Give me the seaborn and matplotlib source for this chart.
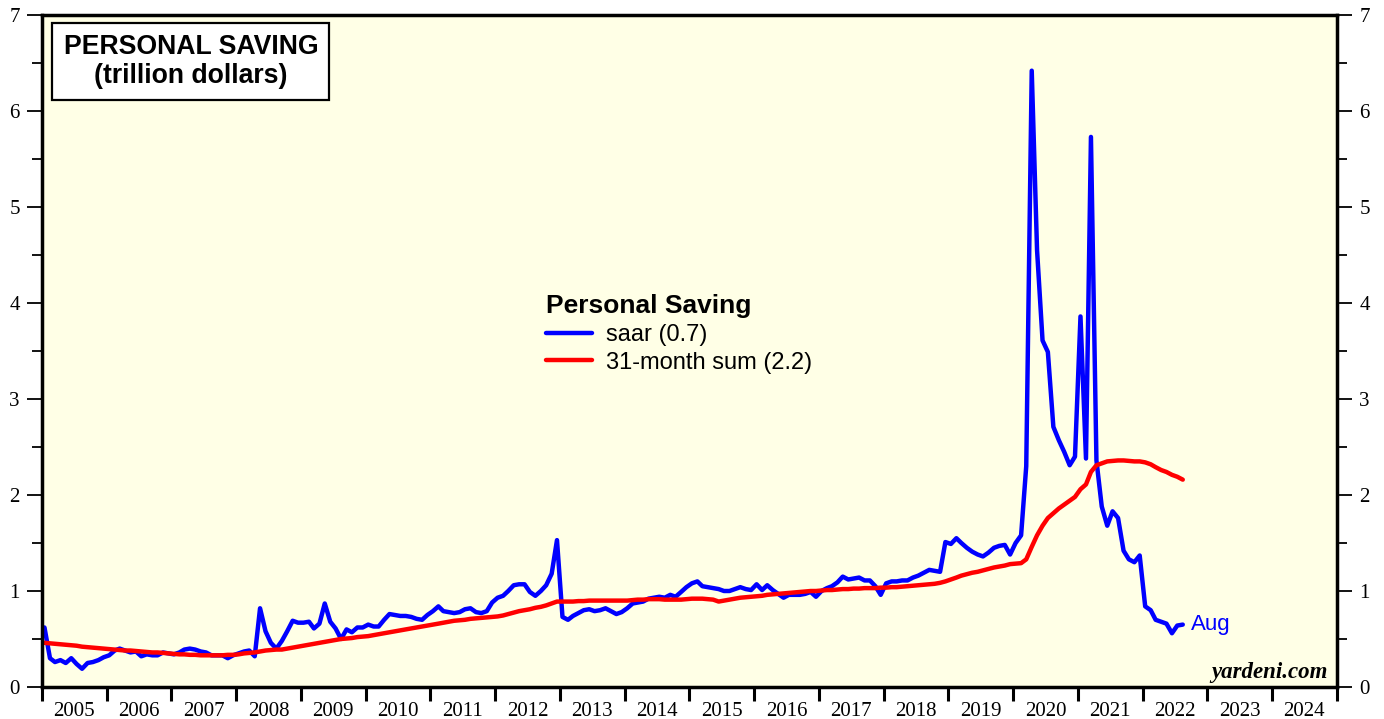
import numpy as np
import pandas as pd
import seaborn as sns
import matplotlib.pyplot as plt
import matplotlib.dates as mdates
from matplotlib.ticker import MultipleLocator, NullFormatter

# personal saving, saar (trillion $), monthly Jan 2005 - Aug 2022
saar_2005_2009 = [0.62, 0.30, 0.26, 0.28, 0.25, 0.30, 0.24, 0.19, 0.25, 0.26, 0.28, 0.31,
                  0.33, 0.38, 0.40, 0.38, 0.36, 0.37, 0.32, 0.34, 0.33, 0.33, 0.36, 0.35,
                  0.34, 0.36, 0.39, 0.40, 0.39, 0.37, 0.36, 0.33, 0.33, 0.33, 0.30, 0.33,
                  0.35, 0.37, 0.38, 0.32, 0.82, 0.58, 0.46, 0.40, 0.48, 0.58, 0.69, 0.67,
                  0.67, 0.68, 0.61, 0.66, 0.87, 0.68, 0.61, 0.50, 0.60, 0.57, 0.62, 0.62]
saar_2010_2014 = [0.65, 0.63, 0.63, 0.70, 0.76, 0.75, 0.74, 0.74, 0.73, 0.71, 0.70, 0.75,
                  0.79, 0.84, 0.79, 0.78, 0.77, 0.78, 0.81, 0.82, 0.78, 0.77, 0.79, 0.88,
                  0.93, 0.95, 1.00, 1.06, 1.07, 1.07, 0.99, 0.95, 1.00, 1.06, 1.18, 1.53,
                  0.73, 0.70, 0.74, 0.77, 0.80, 0.81, 0.79, 0.80, 0.82, 0.79, 0.76, 0.78,
                  0.82, 0.87, 0.88, 0.89, 0.92, 0.93, 0.94, 0.93, 0.96, 0.94, 0.99, 1.04]
saar_2015_2019 = [1.08, 1.10, 1.05, 1.04, 1.03, 1.02, 1.00, 1.00, 1.02, 1.04, 1.02, 1.01,
                  1.07, 1.01, 1.06, 1.01, 0.97, 0.93, 0.96, 0.96, 0.96, 0.97, 0.99, 0.94,
                  1.00, 1.03, 1.05, 1.09, 1.15, 1.12, 1.13, 1.14, 1.11, 1.11, 1.05, 0.96,
                  1.08, 1.10, 1.10, 1.11, 1.11, 1.14, 1.16, 1.19, 1.22, 1.21, 1.20, 1.51,
                  1.49, 1.55, 1.50, 1.45, 1.41, 1.38, 1.36, 1.40, 1.45, 1.47, 1.48, 1.38]
saar_2020_2022 = [1.50, 1.58, 2.30, 6.42, 4.55, 3.61, 3.49, 2.71, 2.57, 2.45, 2.31, 2.40,
                  3.86, 2.38, 5.73, 2.36, 1.88, 1.68, 1.83, 1.76, 1.42, 1.33, 1.30, 1.37,
                  0.84, 0.80, 0.70, 0.68, 0.66, 0.56, 0.64, 0.65]

# 31-month sum (trillion $)
sum31_2005_2009 = [0.46, 0.455, 0.45, 0.445, 0.44, 0.435, 0.43, 0.42, 0.415, 0.41, 0.405, 0.40,
                   0.395, 0.39, 0.385, 0.38, 0.38, 0.375, 0.37, 0.365, 0.36, 0.36, 0.355, 0.35,
                   0.345, 0.34, 0.34, 0.335, 0.335, 0.33, 0.33, 0.33, 0.33, 0.33, 0.335, 0.335,
                   0.34, 0.35, 0.355, 0.36, 0.37, 0.38, 0.385, 0.39, 0.39, 0.40, 0.41, 0.42,
                   0.43, 0.44, 0.45, 0.46, 0.47, 0.48, 0.49, 0.50, 0.505, 0.51, 0.52, 0.525]
sum31_2010_2014 = [0.53, 0.54, 0.55, 0.56, 0.57, 0.58, 0.59, 0.60, 0.61, 0.62, 0.63, 0.64,
                   0.65, 0.66, 0.67, 0.68, 0.69, 0.695, 0.70, 0.71, 0.715, 0.72, 0.725, 0.73,
                   0.735, 0.745, 0.76, 0.775, 0.79, 0.80, 0.81, 0.825, 0.835, 0.85, 0.87, 0.89,
                   0.89, 0.89, 0.89, 0.895, 0.895, 0.90, 0.90, 0.90, 0.90, 0.90, 0.90, 0.90,
                   0.90, 0.905, 0.91, 0.91, 0.915, 0.915, 0.915, 0.91, 0.91, 0.91, 0.91, 0.915]
sum31_2015_2019 = [0.92, 0.92, 0.92, 0.915, 0.91, 0.89, 0.90, 0.91, 0.92, 0.93, 0.935, 0.94,
                   0.945, 0.95, 0.96, 0.965, 0.97, 0.975, 0.98, 0.985, 0.99, 0.995, 1.00, 1.00,
                   1.005, 1.01, 1.01, 1.015, 1.02, 1.02, 1.025, 1.025, 1.03, 1.03, 1.03, 1.035,
                   1.035, 1.04, 1.04, 1.045, 1.05, 1.055, 1.06, 1.065, 1.07, 1.075, 1.085, 1.10,
                   1.12, 1.14, 1.16, 1.175, 1.19, 1.20, 1.215, 1.23, 1.245, 1.255, 1.265, 1.28]
sum31_2020_2022 = [1.285, 1.29, 1.33, 1.46, 1.58, 1.68, 1.76, 1.81, 1.86, 1.90, 1.94, 1.98,
                   2.06, 2.11, 2.24, 2.31, 2.33, 2.35, 2.355, 2.36, 2.36, 2.355, 2.35, 2.35,
                   2.34, 2.32, 2.29, 2.26, 2.24, 2.21, 2.19, 2.16]

saar = saar_2005_2009 + saar_2010_2014 + saar_2015_2019 + saar_2020_2022
sum31 = sum31_2005_2009 + sum31_2010_2014 + sum31_2015_2019 + sum31_2020_2022

dates = pd.date_range("2005-01-01", periods=len(saar), freq="MS") + pd.Timedelta(days=14)
df = pd.DataFrame({"date": dates, "saar": saar, "sum31": sum31})

y_ticks = list(range(0, 8))

fig = plt.figure(figsize=(13.84, 7.19), dpi=100)
ax = fig.add_axes([42 / 1384, 32 / 719, 1295 / 1384, 672 / 719])
ax.set_facecolor("#ffffe6")

sns.lineplot(data=df, x="date", y="saar", ax=ax, color="#0000ff", lw=3.2,
             label="saar (0.7)", solid_capstyle="round")
sns.lineplot(data=df, x="date", y="sum31", ax=ax, color="#ff0000", lw=3.2,
             label="31-month sum (2.2)", solid_capstyle="round")

ax.set_xlim(pd.Timestamp("2005-01-01"), pd.Timestamp("2025-01-01"))
ax.set_ylim(0, 7)
ax.set_xlabel("")
ax.set_ylabel("")

serif = "Liberation Serif"
# x axis: ticks at year boundaries, labels centred in the year
ax.xaxis.set_major_locator(mdates.YearLocator())
ax.xaxis.set_major_formatter(NullFormatter())
ax.xaxis.set_minor_locator(mdates.MonthLocator(bymonth=7))
ax.xaxis.set_minor_formatter(mdates.DateFormatter("%Y"))
ax.tick_params(axis="x", which="major", direction="out", length=10, width=2.2, color="black")
ax.tick_params(axis="x", which="minor", length=0, pad=11, labelsize=15)
for lab in ax.xaxis.get_minorticklabels():
    lab.set_fontfamily(serif)

# y axis both sides
ax.set_yticks(y_ticks)
ax.yaxis.set_minor_locator(MultipleLocator(0.5))
ax.tick_params(axis="y", which="major", direction="out", length=11, width=1.3,
               left=True, right=True, labelleft=True, labelright=True, labelsize=15, pad=5)
ax.tick_params(axis="y", which="minor", direction="out", length=7, width=1.3,
               left=True, right=True)
for lab in ax.get_yticklabels():
    lab.set_fontfamily(serif)

for s in ax.spines.values():
    s.set_linewidth(2.5)
    s.set_color("black")

# title box
ax.text(0.115, 0.931, "PERSONAL SAVING\n(trillion dollars)", transform=ax.transAxes,
        ha="center", va="center", fontsize=19.2, fontweight="bold", family="Liberation Sans",
        linespacing=1.15,
        bbox=dict(boxstyle="square,pad=0.42", fc="white", ec="black", lw=1.6))

# legend
leg = ax.legend(loc="upper left", bbox_to_anchor=(0.382, 0.599), frameon=False,
                title="Personal Saving", fontsize=17, handlelength=1.95,
                handletextpad=0.6, labelspacing=0.25, borderaxespad=0,
                alignment="left",
                title_fontproperties={"weight": "bold", "size": 19, "family": "Liberation Sans"})
for t in leg.get_texts():
    t.set_fontfamily("Liberation Sans")
for h in leg.get_lines():
    h.set_linewidth(3.2)

# end label on the last saar point
ax.annotate("Aug", xy=(df["date"].iloc[-1], df["saar"].iloc[-1]), xytext=(6, 0),
            textcoords="offset points", color="#0000ff", fontsize=16,
            family="Liberation Sans", va="center", ha="left")

ax.text(0.993, 0.006, "yardeni.com", transform=ax.transAxes, ha="right", va="bottom",
        fontsize=16.5, fontweight="bold", fontstyle="italic", family=serif)

fig.savefig("out.png", dpi=100)
